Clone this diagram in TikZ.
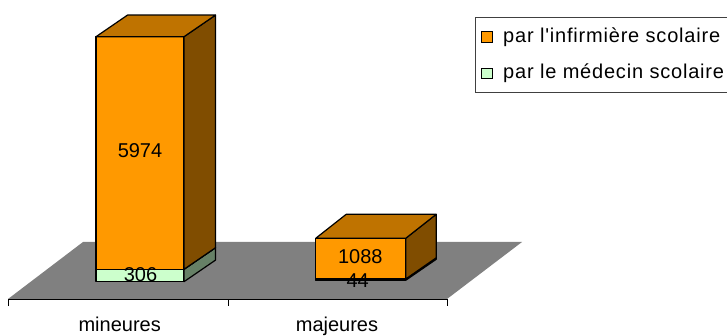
\documentclass[tikz,border=0pt]{standalone}
\usepackage{fontspec}
\newfontfamily\lsans{Liberation Sans}
\newfontfamily\lsanswide{Liberation Sans}[LetterSpace=4]
\definecolor{orfront}{RGB}{255,153,0}
\definecolor{ortop}{RGB}{191,115,0}
\definecolor{orside}{RGB}{128,77,0}
\definecolor{grfront}{RGB}{204,255,204}
\definecolor{grside}{RGB}{102,128,102}
\definecolor{grtop}{RGB}{153,191,153}
\definecolor{floorgray}{RGB}{128,128,128}
% #1 x-left, #2 x-right, #3 y-top, #4 y-bottom, #5 dx, #6 dy top, #7 dy bottom, #8 front, #9 side/top prefix
\newcommand\cuboidseg[9]{%
  \filldraw[face,fill=#8] (#1,#3) rectangle (#2,#4);
  \filldraw[face,fill=#9side] (#2,#3) -- ({#2+#5},{#3+#6}) -- ({#2+#5},{#4+#7}) -- (#2,#4) -- cycle;
  \filldraw[face,fill=#9top] (#1,#3) -- ({#1+#5},{#3+#6}) -- ({#2+#5},{#3+#6}) -- (#2,#3) -- cycle;
}
\begin{document}
\begin{tikzpicture}[x=1pt,y=-1pt,
  face/.style={draw=black,line width=1.2pt,line join=round},
  lbl/.style={font=\lsans\fontsize{20}{24}\selectfont,inner sep=0pt},
  leglbl/.style={font=\lsanswide\fontsize{20}{24}\selectfont,inner sep=0pt},
  legsq/.style={draw=black,line width=1pt,minimum size=10.5pt,inner sep=0pt}]
\useasboundingbox (0,0) rectangle (727,336);
% floor
\fill[floorgray] (8,299) -- (447,299) -- (522,242) -- (83,242) -- cycle;
\draw[line width=1pt] (8,306) -- (8,299) -- (447,299) -- (447,306);
\draw[line width=1pt] (228,299) -- (228,306);
% bar 1 : mineures
\cuboidseg{96}{184}{269.3}{281.7}{31.5}{-21.6}{-21.6}{grfront}{gr}
\cuboidseg{96}{184}{36.7}{269.3}{31.5}{-21.6}{-21.6}{orfront}{or}
% bar 2 : majeures
\cuboidseg{315.7}{405.7}{279}{280.3}{30.5}{-21.2}{-21}{grfront}{gr}
\cuboidseg{315.7}{405.7}{238.3}{279}{30.5}{-24}{-21.2}{orfront}{or}
% value labels
\node[lbl] (v5974) at (140,150.3) {5974};
\node[lbl] (v306) at (140.5,274.5) {306};
\node[lbl] (v1088) at (360.3,256.2) {1088};
\node[lbl] (v44) at (357.7,280.8) {44};
% category labels
\node[lbl,anchor=base] (cat1) at (119.7,331.5) {mineures};
\node[lbl,anchor=base] (cat2) at (337,331.5) {majeures};
% legend
\begin{scope}
\clip (0,0) rectangle (727,336);
\draw[black!75,line width=1pt] (475,17.3) rectangle (745,92.3);
\end{scope}
\node[legsq,fill=orfront] (sq1) at (487,37) {};
\node[legsq,fill=grfront] (sq2) at (487,73.7) {};
\node[leglbl,anchor=base west] (leg1) at (503,42.3) {par l'infirmière scolaire};
\node[leglbl,anchor=base west] (leg2) at (503,79) {par le médecin scolaire};
\end{tikzpicture}
\end{document}
